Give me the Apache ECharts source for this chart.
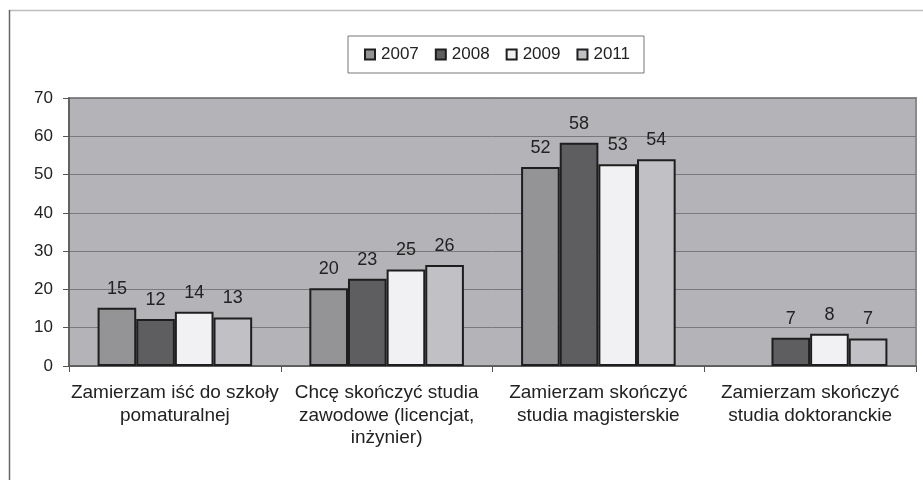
<!DOCTYPE html>
<html><head><meta charset="utf-8">
<script src="https://cdn.jsdelivr.net/npm/echarts@6/dist/echarts.min.js"></script>
<style>html,body{margin:0;padding:0;background:#fff}#c{width:923px;height:480px}</style>
</head><body><div id="c"></div>
<script>
const categories = [
  "Zamierzam iść do szkoły\npomaturalnej",
  "Chcę skończyć studia\nzawodowe (licencjat,\ninżynier)",
  "Zamierzam skończyć\nstudia magisterskie",
  "Zamierzam skończyć\nstudia doktoranckie"
];
const seriesNames = ["2007", "2008", "2009", "2011"];
const v2007 = [15.2, 20.3, 52.0, null];
const v2008 = [12.3, 22.8, 58.3, 7.4];
const v2009 = [14.2, 25.2, 52.7, 8.4];
const v2011 = [12.7, 26.4, 54.0, 7.2];
const yTicks = [0, 10, 20, 30, 40, 50, 60, 70];

const colors = ["#949497", "#5e5e61", "#f1f1f3", "#c1c1c5"];
const values = [v2007, v2008, v2009, v2011];
const font = "Liberation Sans, Arial, sans-serif";

const chart = echarts.init(document.getElementById('c'), null, {renderer: 'canvas'});
chart.setOption({
  animation: false,
  backgroundColor: '#fff',
  textStyle: {fontFamily: font},
  graphic: [
    {type: 'line', shape: {x1: 9, y1: 10.5, x2: 923, y2: 10.5}, style: {stroke: '#bdbdbd', lineWidth: 1.5}, silent: true},
    {type: 'line', shape: {x1: 9.5, y1: 10, x2: 9.5, y2: 480}, style: {stroke: '#666', lineWidth: 1.5}, silent: true}
  ],
  legend: {
    data: seriesNames,
    left: 348,
    top: 36,
    icon: 'rect',
    itemWidth: 10,
    itemHeight: 10,
    itemGap: 16,
    padding: [10, 14, 10, 16],
    borderColor: '#777',
    borderWidth: 1,
    backgroundColor: '#fff',
    textStyle: {fontFamily: font, fontSize: 17, color: '#222', padding: [0, 0, 0, 1]}
  },
  grid: {
    left: 69, right: 7, top: 98, bottom: 114,
    show: true,
    backgroundColor: '#b4b4b8',
    borderColor: '#8a8a8c',
    borderWidth: 2
  },
  xAxis: {
    type: 'category',
    data: categories,
    axisLine: {lineStyle: {color: '#555', width: 1.5}},
    axisTick: {show: true, length: 6, lineStyle: {color: '#555'}},
    axisLabel: {interval: 0, fontFamily: font, fontSize: 19, color: '#222', lineHeight: 22.5, margin: 16}
  },
  yAxis: {
    type: 'value',
    min: 0, max: 70, interval: 10,
    axisLine: {show: true, lineStyle: {color: '#555', width: 1.5}},
    axisTick: {show: true, length: 6, lineStyle: {color: '#555'}},
    axisLabel: {fontFamily: font, fontSize: 17, color: '#222', margin: 16,
      formatter: function (v) { return yTicks.indexOf(v) >= 0 ? String(v) : ''; }},
    splitLine: {lineStyle: {color: '#7a7a7c', width: 1}}
  },
  series: seriesNames.map(function (n, i) {
    return {
      name: n,
      type: 'bar',
      data: values[i],
      barGap: '0%',
      barCategoryGap: '27%',
      itemStyle: {color: colors[i], borderColor: '#1e1e1e', borderWidth: 2},
      label: {
        show: true, position: 'top', distance: 10,
        fontFamily: font, fontSize: 18, color: '#222',
        formatter: function (p) { return p.value == null ? '' : String(Math.round(p.value)); }
      }
    };
  })
});
</script>
</body></html>
